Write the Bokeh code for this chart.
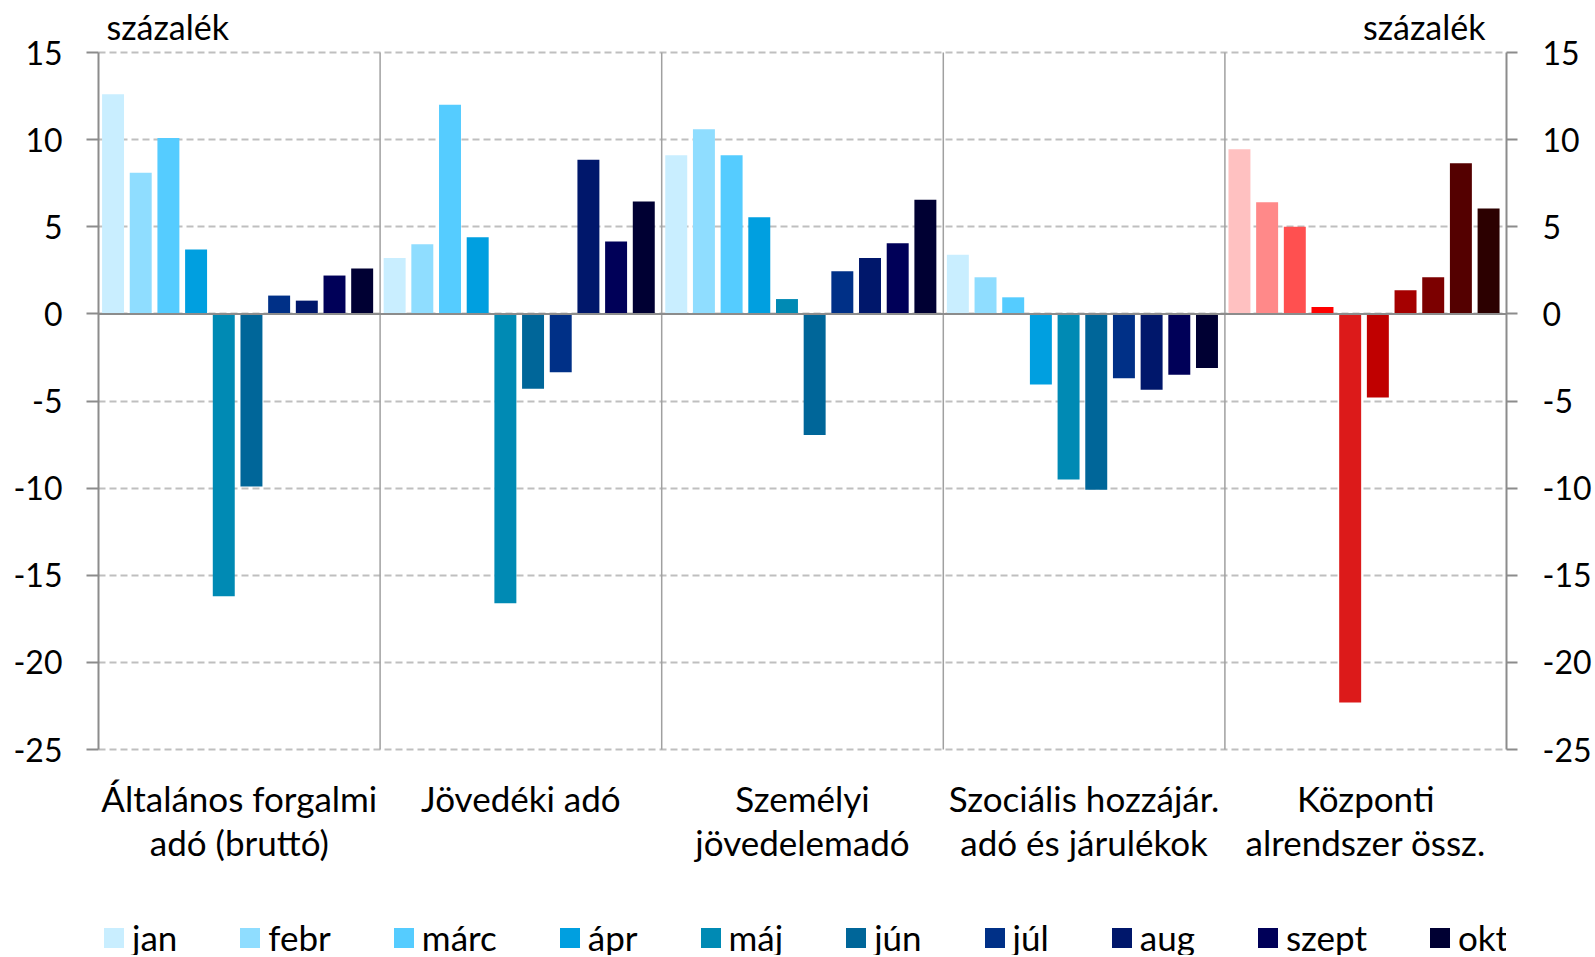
from bokeh.plotting import figure
from bokeh.models import (ColumnDataSource, LinearAxis, FixedTicker, Grid, Span,
                          Label, Legend, LegendItem)
from bokeh.embed import file_html
from bokeh.resources import INLINE

# ---------------- data ----------------
months = ["jan", "febr", "márc", "ápr", "máj", "jún", "júl", "aug", "szept", "okt"]
group_lines = [
    ["Általános forgalmi", "adó (bruttó)"],
    ["Jövedéki adó"],
    ["Személyi", "jövedelemadó"],
    ["Szociális hozzájár.", "adó és járulékok"],
    ["Központi", "alrendszer össz."],
]
afa = [12.6, 8.1, 10.1, 3.7, -16.2, -9.9, 1.05, 0.76, 2.2, 2.6]
jovedeki = [3.2, 4.0, 12.0, 4.4, -16.6, -4.3, -3.35, 8.85, 4.15, 6.45]
szja = [9.1, 10.6, 9.1, 5.55, 0.85, -6.95, 2.45, 3.2, 4.05, 6.55]
szocialis = [3.4, 2.1, 0.95, -4.05, -9.5, -10.1, -3.7, -4.35, -3.5, -3.1]
kozponti = [9.45, 6.4, 5.0, 0.4, -22.3, -4.8, 1.35, 2.1, 8.65, 6.05]
y_ticks = [-25, -20, -15, -10, -5, 0, 5, 10, 15]
unit_label = "százalék"

blue_colors = ["#C9EEFF", "#8FDDFF", "#55CCFF", "#009FE0", "#008AB4",
               "#006699", "#003087", "#00176B", "#000058", "#000033"]
red_colors = ["#FFC1C1", "#FF8989", "#FF5050", "#FF0000", "#DC1A1A",
              "#C00000", "#A50000", "#7C0000", "#540000", "#2C0000"]

blue_series = [afa, jovedeki, szja, szocialis]
n_groups = len(group_lines)
n_months = len(months)

FONT = "Lato"
AXIS_GRAY = "#8C8C8C"

# layout (pixels)
H = 955
plot_top_px, plot_bot_px = 52, 749
ppu = (plot_bot_px - plot_top_px) / (y_ticks[-1] - y_ticks[0])
y_top = y_ticks[-1] + plot_top_px / ppu
y_bot = y_ticks[0] - (H - plot_bot_px) / ppu

p = figure(frame_width=1408, frame_height=H, x_range=(0, n_groups),
           y_range=(y_bot, y_top), title=None,
           output_backend="svg", toolbar_location=None,
           x_axis_location=None, y_axis_location=None,
           min_border_left=98, min_border_right=85, min_border_top=0,
           min_border_bottom=0)
p.outline_line_color = None
p.background_fill_color = "white"
p.border_fill_color = "white"
# remove any default grids
for r in list(p.center):
    if isinstance(r, Grid):
        r.visible = False

# horizontal dashed grid
grid = Grid(dimension=1, ticker=FixedTicker(ticks=y_ticks),
            grid_line_color="#BFBFBF", grid_line_width=2,
            grid_line_dash="7 4")
p.add_layout(grid)

# vertical separators between groups
sep_x = list(range(1, n_groups))
p.segment(x0=sep_x, y0=[y_ticks[0]] * len(sep_x), x1=sep_x,
          y1=[y_ticks[-1]] * len(sep_x), line_color="#A0A0A0", line_width=1.5)

step = 0.0983
width = 0.078
legend_items = []
for i, m in enumerate(months):
    off = 0.5 + (i - (n_months - 1) / 2) * step - 0.006
    src_b = ColumnDataSource(dict(x=[g + off for g in range(len(blue_series))],
                                  top=[s[i] for s in blue_series]))
    rb = p.vbar(x="x", top="top", bottom=0, width=width, source=src_b,
                fill_color=blue_colors[i], line_color=None)
    src_r = ColumnDataSource(dict(x=[len(blue_series) + off], top=[kozponti[i]]))
    p.vbar(x="x", top="top", bottom=0, width=width, source=src_r,
           fill_color=red_colors[i], line_color=None)
    legend_items.append(LegendItem(label=m, renderers=[rb]))

# zero line
p.add_layout(Span(location=0, dimension="width", line_color=AXIS_GRAY, line_width=2))

overrides = {v: str(v) for v in y_ticks}
for side, standoff, tout in (("left", 24, 12), ("right", 25, 11)):
    ax = LinearAxis(ticker=FixedTicker(ticks=y_ticks),
                    bounds=(y_ticks[0], y_ticks[-1]),
                    major_label_overrides=overrides,
                    axis_line_color=AXIS_GRAY, axis_line_width=2,
                    major_tick_line_color=AXIS_GRAY, major_tick_line_width=2,
                    major_tick_out=tout, major_tick_in=0,
                    minor_tick_out=0, minor_tick_in=0,
                    major_label_standoff=standoff,
                    major_label_text_font=FONT,
                    major_label_text_font_size="32px",
                    major_label_text_color="black")
    p.add_layout(ax, side)

# unit labels
p.add_layout(Label(x=0, y=y_ticks[-1], x_offset=8, y_offset=26, text=unit_label,
                   text_align="left", text_baseline="middle",
                   text_font=FONT, text_font_size="34px", text_color="black"))
p.add_layout(Label(x=n_groups, y=y_ticks[-1], x_offset=-21, y_offset=26, text=unit_label,
                   text_align="right", text_baseline="middle",
                   text_font=FONT, text_font_size="34px", text_color="black"))

# category labels
line_offsets = [-48, -92]
for g, lines in enumerate(group_lines):
    for k, t in enumerate(lines):
        p.add_layout(Label(x=g + 0.5, y=y_ticks[0], y_offset=line_offsets[k], text=t,
                           text_align="center", text_baseline="middle",
                           text_font=FONT, text_font_size="35px", text_color="black"))

legend = Legend(items=legend_items, orientation="horizontal", location=(3, -3),
                glyph_width=25, glyph_height=25, label_standoff=6, spacing=60,
                padding=0, margin=0, border_line_color=None,
                background_fill_alpha=0, label_text_font=FONT,
                label_text_font_size="35px", label_height=20,
                label_text_color="black")
p.add_layout(legend)

open("out.html", "w").write(file_html(p, INLINE))
